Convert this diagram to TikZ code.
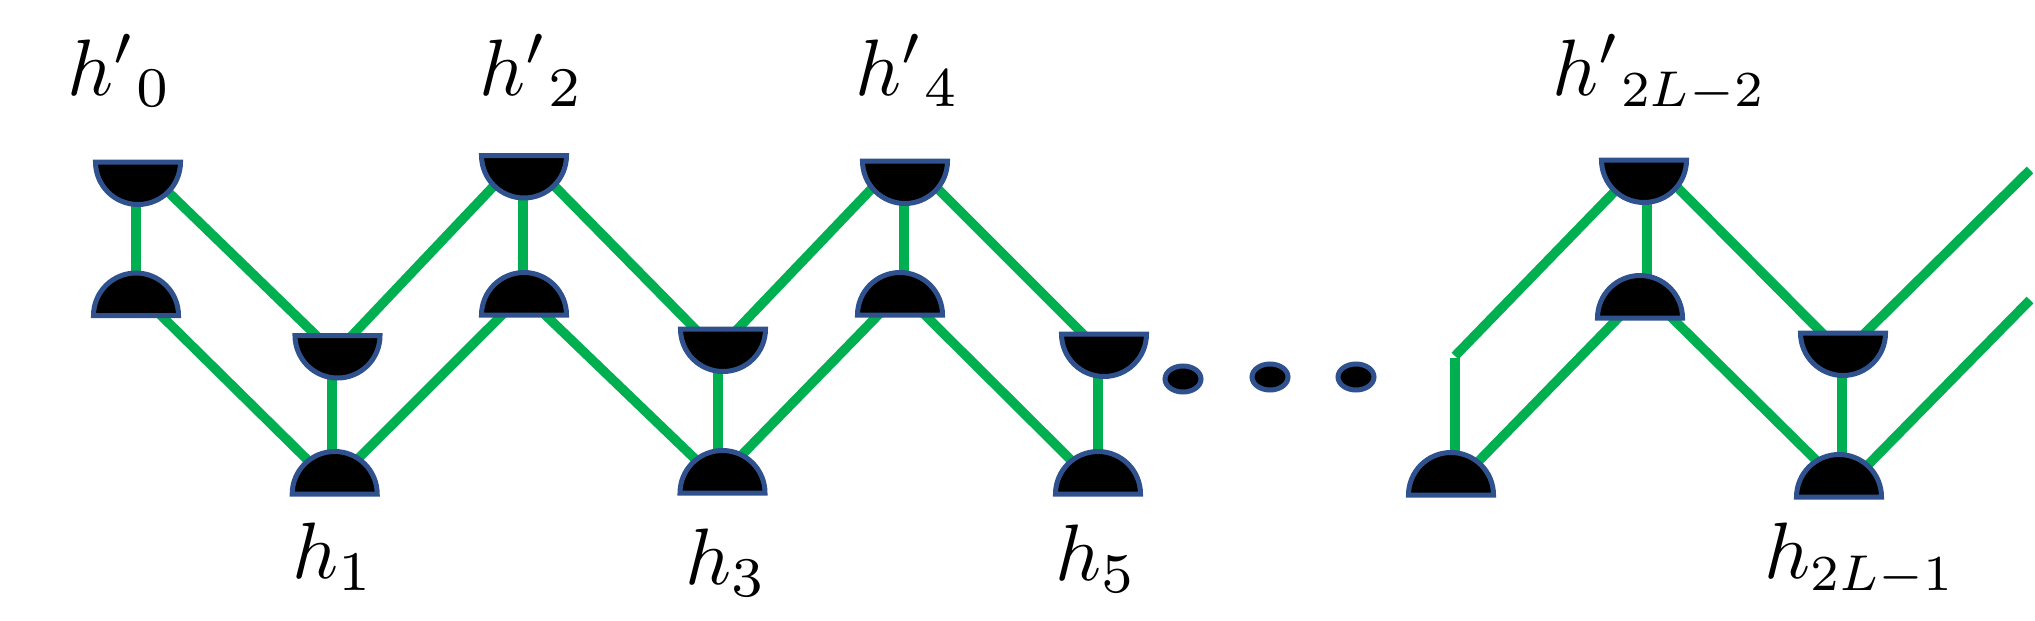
\documentclass[tikz,border=0pt]{standalone}
\usetikzlibrary{shapes.geometric}
\definecolor{linkgreen}{HTML}{00B050}
\definecolor{rimblue}{HTML}{2F528F}
% name, x, y, x of the vertical link
\newcommand{\cupat}[4]{%
  \coordinate (#1) at (#2,#3);
  \coordinate (#1-v) at (#4,#3);
  \coordinate (#1-ll) at (#2-25,#3+25);
  \coordinate (#1-lr) at (#2+25,#3+25);
  \coordinate (#1-tl) at (#2-13,#3+8);
  \coordinate (#1-tr) at (#2+7,#3+8);
}
\newcommand{\capat}[3]{%
  \coordinate (#1) at (#2,#3);
  \coordinate (#1-ul) at (#2-18,#3-25);
  \coordinate (#1-ur) at (#2+15,#3-27);
  \coordinate (#1-bl) at (#2-14,#3-8);
  \coordinate (#1-br) at (#2+17,#3-8);
}
\newcommand{\drawcup}[1]{\draw[dome] (#1) +(-42.5,0) arc[start angle=180,end angle=0,radius=42.5] -- cycle;}
\newcommand{\drawcap}[1]{\draw[dome] (#1) +(-42.5,0) arc[start angle=180,end angle=360,radius=42.5] -- cycle;}
\tikzset{
  link/.style={draw=linkgreen,line width=9.5pt},
  dome/.style={draw=rimblue,fill=black,line width=5pt,line join=miter},
  dotmark/.style={draw=rimblue,fill=black,line width=5pt,ellipse,inner sep=0pt,minimum width=36pt,minimum height=26pt},
  lab/.style={anchor=base west,inner sep=0pt,scale=8}
}
\begin{document}
\begin{tikzpicture}[x=1pt,y=-1pt]
\useasboundingbox (0,0) rectangle (2035,621);
% upper cups
\cupat{a0}{138}{162}{136}
\cupat{a1}{337.5}{335.5}{332}
\cupat{a2}{524}{155.5}{523}
\cupat{a3}{723}{329}{718}
\cupat{a4}{905}{161}{904}
\cupat{a5}{1104}{334}{1098}
\cupat{a6}{1644}{160}{1647}
\cupat{a7}{1843}{333}{1842}
% lower caps
\capat{b0}{136}{315.5}
\capat{b1}{334.7}{494}
\capat{b2}{524}{315}
\capat{b3}{722.5}{493}
\capat{b4}{900}{315}
\capat{b5}{1098}{494}
\capat{b6}{1451}{495}
\capat{b7}{1640}{318}
\capat{b8}{1839}{497}
% attachment points that sit off the usual place
\coordinate (a3-tl) at (703,337);
\coordinate (a7-tr) at (1860,338);
\coordinate (a4-ll) at (878,182);
\coordinate (a4-lr) at (931,182);
\coordinate (a6-ll) at (1619,187);
\coordinate (a6-lr) at (1672,182);
\coordinate (b2-br) at (537,307);
\coordinate (b7-br) at (1664,310);
\coordinate (b8-ul) at (1826,470);
\coordinate (b8-ur) at (1858,475);
\coordinate (b6-ur) at (1470,470);
\coordinate (b3-ur) at (732,465);
% free ends
\coordinate (f1) at (1455,356);
\coordinate (f2) at (1455,358);
\coordinate (e1) at (2030,170);
\coordinate (e2) at (2030,300);
% connectors
\draw[link] (a0-v) -- (a0-v |- b0);
\draw[link] (a1-v) -- (a1-v |- b1);
\draw[link] (a2-v) -- (a2-v |- b2);
\draw[link] (a3-v) -- (a3-v |- b3);
\draw[link] (a4-v) -- (a4-v |- b4);
\draw[link] (a5-v) -- (a5-v |- b5);
\draw[link] (a6-v) -- (a6-v |- b7);
\draw[link] (a7-v) -- (a7-v |- b8);
\draw[link] (a0-lr) -- (a1-tl);
\draw[link] (a1-tr) -- (a2-ll);
\draw[link] (a2-lr) -- (a3-tl);
\draw[link] (a3-tr) -- (a4-ll);
\draw[link] (a4-lr) -- (a5-tl);
\draw[link] (b0-br) -- (b1-ul);
\draw[link] (b1-ur) -- (b2-bl);
\draw[link] (b2-br) -- (b3-ul);
\draw[link] (b3-ur) -- (b4-bl);
\draw[link] (b4-br) -- (b5-ul);
\draw[link] (f1) -- (a6-ll);
\draw[link] (f2) -- (f2 |- b6);
\draw[link] (b6-ur) -- (b7-bl);
\draw[link] (a6-lr) -- (a7-tl);
\draw[link] (b7-br) -- (b8-ul);
\draw[link] (a7-tr) -- (e1);
\draw[link] (b8-ur) -- (e2);
% domes
\drawcup{a0}\drawcup{a1}\drawcup{a2}\drawcup{a3}\drawcup{a4}\drawcup{a5}\drawcup{a6}\drawcup{a7}
\drawcap{b0}\drawcap{b1}\drawcap{b2}\drawcap{b3}\drawcap{b4}\drawcap{b5}\drawcap{b6}\drawcap{b7}\drawcap{b8}
% dots
\node[dotmark] (d1) at (1183,379) {};
\node[dotmark] (d2) at (1270,377) {};
\node[dotmark] (d3) at (1356,377) {};
% labels
\node[lab] (t0) at (66,95) {$h'{}_{0}$};
\node[lab] (t2) at (478,95) {$h'{}_{2}$};
\node[lab] (t4) at (854,95) {$h'{}_{4}$};
\node[lab] (t6) at (1551,95) {$h'{}_{\scalebox{.9}{$\scriptstyle 2L-2$}}$};
\node[lab] (u1) at (291,578) {$h_{1}$};
\node[lab] (u3) at (684,584) {$h_{3}$};
\node[lab] (u5) at (1054,580) {$h_{5}$};
\node[lab] (u7) at (1763,578) {$h_{\scalebox{.9}{$\scriptstyle 2L-1$}}$};
\end{tikzpicture}
\end{document}
